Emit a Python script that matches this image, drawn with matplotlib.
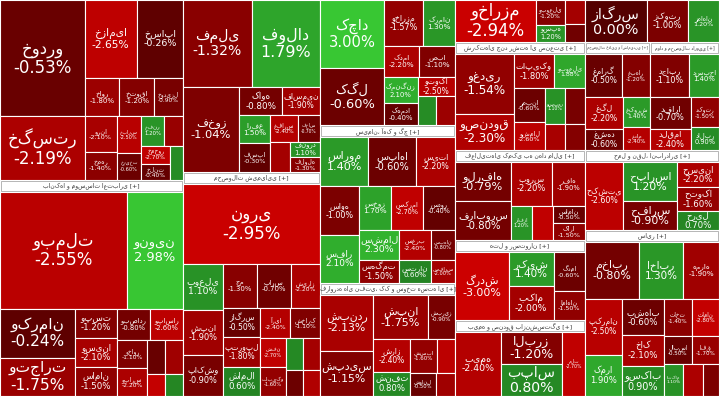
import matplotlib
matplotlib.use("Agg")
import matplotlib.pyplot as plt
from matplotlib.patches import Rectangle

plt.rcParams['font.family'] = ['DejaVu Sans']

# sectors: names and stocks (name, size, change%)
sector_names = ["خودرو و ساخت قطعات", "بانکها و موسسات اعتباری", "فلزات اساسی", "محصولات شیمیایی",
                "استخراج کانه های فلزی", "سیمان، آهک و گچ", "فراورده های نفتی، کک و سوخت هسته ای",
                "سرمایه گذاریها", "شرکتهای چند رشته ای صنعتی", "فعالیتهای کمکی به نهاد مالی",
                "هتل و رستوران", "بیمه و صندوق بازنشستگی", "زراعت", "محصولات غذایی و آشامیدنی",
                "مواد و محصولات دارویی", "حمل و نقل، انبارداری", "سایر"]
sector_stocks = [
    [("خودرو", 22, -0.53), ("خساپا", 8, -0.26), ("خگستر", 12, -2.19), ("خزامیا", 9, -2.65),
     ("خاور", 3, -1.8), ("ختوقا", 3, -1.2), ("خودیزل", 2.5, -0.9), ("ورنا", 2.5, -2.1),
     ("خمهر", 2, -1.4), ("خپارس", 2, -2.5), ("خریخت", 1.5, -0.6), ("خفنر", 1.5, 1.2),
     ("خکار", 1.2, -1.7), ("خمحور", 1.2, -2.7), ("خلنت", 1, -0.4), ("ساپرا", 1, 0.9)],
    [("وبملت", 36, -2.55), ("ونوین", 16, 2.98), ("وکرمان", 9, -0.24), ("وتجارت", 7, -1.75),
     ("وپست", 3, -1.2), ("وسینا", 3, -2.1), ("سامان", 3, -1.5), ("وبصادر", 2.5, -0.8),
     ("وپاسار", 2.5, -2.6), ("وخاور", 2, -1.1), ("وپارس", 2, -2.2), ("ودی", 1.5, -0.5),
     ("وآیند", 1.5, -1.9), ("وسرمد", 1, -2.8), ("وشهر", 1, 0.7)],
    [("فملی", 20, -1.32), ("فخوز", 16, -1.04), ("فولاد", 20, 1.79), ("کاوه", 4, -0.8),
     ("فاسمین", 3.5, -1.9), ("ارفع", 3, 1.5), ("فسپا", 3, -0.3), ("غفارس", 2.5, -2.4),
     ("فخاس", 2, -0.7), ("فجر", 2, -2.0), ("فنورد", 1.5, 1.1), ("فلوله", 1.5, -1.3)],
    [("نوری", 30, -2.95), ("بوعلی", 5, 1.1), ("پاکشو", 4.5, -0.9), ("شپنا", 5, -1.9),
     ("جم", 4, -1.3), ("پارس", 4, -0.7), ("شیراز", 3.5, -2.2), ("زاگرس", 3, -0.5),
     ("پتروپل", 3, -1.8), ("شاملا", 3, 0.6), ("آریا", 2.5, -2.4), ("شخارک", 2.5, -1.1),
     ("شفن", 2, -2.7), ("تاپیکو", 2, -1.6), ("شکلر", 1.5, 0.8), ("شسینا", 1.5, -2.0),
     ("شفارس", 1.2, -0.6), ("شصدف", 1.2, -2.3)],
    [("کچاد", 12, 3.0), ("کگل", 10, -0.6), ("وخارزم", 5, -1.57), ("کرمان", 4, 1.3),
     ("کدما", 3, -2.2), ("صبا", 3, -1.1), ("کمنگنز", 2.5, 2.1), ("کهمدا", 2, -0.4),
     ("وتوکا", 2, -2.5), ("مهر", 1.5, 0.9), ("نیان", 1.5, -1.8)],
    [("ساروم", 5, 1.4), ("سپاها", 5, -0.6), ("سیتا", 4, -2.2), ("ساوه", 4, -1.0),
     ("سفار", 4, 2.1), ("سخوز", 3, 1.7), ("سکرما", 3, -2.7), ("سدور", 3, -0.4),
     ("سشمال", 2.5, 2.3), ("سهگمت", 2, -1.5), ("سغرب", 2, -2.4), ("ستران", 1.5, 0.6),
     ("سبهان", 1.5, -0.8), ("سفارس", 1.2, -2.0)],
    [("شبندر", 10, -2.13), ("شپدیس", 8, -1.15), ("شپنا", 8, -1.75), ("شبریز", 4, -0.9),
     ("شراز", 4, -2.4), ("شنفت", 3, 0.8), ("شسپا", 3, -1.6), ("شاوان", 2, -2.6),
     ("شوانل", 2, -0.5), ("شتران", 1.5, -1.9)],
    [("وخارزم", 14, -2.94), ("وبوعلی", 3, -1.2), ("وسپه", 2, 1.2), ("وصنعت", 2, -2.0),
     ("وامید", 1.5, -0.7)],
    [("وغدیر", 10, -1.54), ("وصندوق", 6, -2.3), ("تاپیکو", 4, -1.8), ("وبوعلی", 3, 1.88),
     ("رمپنا", 3, -0.6), ("وشمال", 2.5, -2.6), ("وسپهر", 2, 1.1), ("وکار", 2, -0.9),
     ("کیمیا", 1.5, -2.1), ("وپترو", 1.5, -1.2)],
    [("ولرفاه", 6, -0.79), ("رفاه", 4, -1.9), ("فرابورس", 6, -0.8), ("بورس", 5, -2.2),
     ("رافزا", 2, 1.2), ("آپ", 2, -2.7), ("سامان", 1.5, -0.5), ("کارا", 1.5, -1.5)],
    [("گردش", 6, -3.0), ("رکیش", 2.5, 1.4), ("بکام", 2.5, -2.0), ("گدما", 2, -0.6),
     ("اماهان", 1.5, -1.5)],
    [("بیمه", 3, -2.4), ("البرز", 2, -1.2), ("بپاس", 2, 0.8), ("ملت", 1.5, -2.7)],
    [("زاگرس", 3, 0.0), ("زکوثر", 2, -1.0), ("زماهان", 1.5, 1.2)],
    [("غمارگ", 4, -0.5), ("غبهار", 3, -1.2), ("غگل", 3, -2.2), ("غشهد", 2, -0.6),
     ("غکورش", 2, 1.4), ("غدام", 1.5, -2.4)],
    [("دجابر", 4, -1.1), ("دسبحا", 3, 1.4), ("دفارا", 3, -0.7), ("دلقما", 2, -2.4),
     ("دکوثر", 2, -1.5), ("دالبر", 1.5, 0.9)],
    [("حکشتی", 5, -2.6), ("حپارسا", 4, 1.2), ("حفارس", 3, -0.9), ("حسینا", 2, -2.2),
     ("حتوکا", 2, -1.6), ("حریل", 1.5, 0.7)],
    [("مخابر", 6, -0.8), ("اخابر", 5, 1.3), ("همراه", 4, -1.9), ("پکرمان", 4, -2.5),
     ("کمرا", 3, 1.9), ("بشهاب", 3, -0.6), ("خاک", 2.5, -2.1), ("وسکاب", 2.5, 0.9),
     ("ثاخت", 2, -1.4), ("ثامان", 2, -2.8), ("لابسا", 1.5, -0.5), ("افق", 1.5, -1.7),
     ("اتکام", 1.2, 1.1), ("ثبهساز", 1.2, -2.2), ("پلاسک", 1, -1.0)],
]

# sector frames in pixels (x0, y0, x1, y1); header strip at top
frames = [(0, -12, 183, 180), (0, 180, 183, 396), (183, -12, 320, 172), (183, 172, 320, 396),
          (320, -12, 455, 125), (320, 125, 455, 283), (320, 283, 455, 396),
          (455, -12, 585, 42), (455, 42, 585, 150), (455, 150, 585, 240),
          (455, 240, 585, 320), (455, 320, 585, 396), (585, -12, 719, 42),
          (585, 42, 650, 150), (650, 42, 719, 150), (585, 150, 719, 230), (585, 230, 719, 396)]

W, H = 719, 404


def worst(row, w):
    s = sum(row)
    return max(max(w * w * r / (s * s), s * s / (w * w * r)) for r in row)


def squarify(vals, x, y, dx, dy):
    total = sum(vals)
    vals = [v * dx * dy / total for v in vals]
    rects = []
    i = 0
    while i < len(vals):
        w = min(dx, dy)
        row = [vals[i]]
        j = i + 1
        while j < len(vals) and worst(row + [vals[j]], w) <= worst(row, w):
            row.append(vals[j]); j += 1
        s = sum(row)
        if dx >= dy:
            rw = s / dy; cy = y
            for r in row:
                h = r / rw; rects.append((x, cy, rw, h)); cy += h
            x += rw; dx -= rw
        else:
            rh = s / dx; cx = x
            for r in row:
                ww = r / rh; rects.append((cx, y, ww, rh)); cx += ww
            y += rh; dy -= rh
        i = j
    return rects


def color(c):
    if c > 0:
        t = min(c / 3, 1)
        return (0.12 + 0.1 * t, 0.45 + 0.33 * t, 0.12 + 0.08 * t)
    t = min(-c / 3, 1)
    return (0.33 + 0.47 * t, 0.0, 0.0)


fig = plt.figure(figsize=(7.19, 4.04), dpi=100)
ax = fig.add_axes([0, 0, 1, 1])
ax.set_xlim(0, W); ax.set_ylim(H, 0); ax.axis('off')
ax.add_patch(Rectangle((0, 0), W, H, facecolor='white', edgecolor='none'))

hdr = 12
for k, (x0, y0, x1, y1) in enumerate(frames):
    stocks = sorted(sector_stocks[k], key=lambda s: -s[1])
    inner = squarify([s[1] for s in stocks], x0, y0 + hdr, x1 - x0, y1 - y0 - hdr)
    for (name, size, ch), (sx, sy, sw, sh) in zip(stocks, inner):
        ax.add_patch(Rectangle((sx, sy), sw, sh, facecolor=color(ch), edgecolor='white', lw=0.8))
        lab2 = f"{ch:.2f}%"
        vis_top = max(sy, 0)
        vis_h = sy + sh - vis_top
        fs = min(12, vis_h / 3.0, sw / (0.8 * max(len(name), len(lab2)) + 2))
        if fs >= 3.2:
            ax.text(sx + sw / 2, vis_top + vis_h / 2, f"{name}\n{lab2}", color='white', fontsize=fs,
                    ha='center', va='center', linespacing=1.1, clip_on=True)
    if y0 >= 0:
        ax.add_patch(Rectangle((x0 + 1, y0 + 1), x1 - x0 - 2, hdr - 2, facecolor='white',
                               edgecolor='#aaaaaa', lw=0.6))
        label = f"{sector_names[k]} [+]"
        hfs = min(4.3, (x1 - x0 - 4) / (0.8 * len(label)))
        ax.text((x0 + x1) / 2, y0 + hdr / 2, label, fontsize=hfs, ha='center',
                va='center', color='#333333', clip_on=True)

fig.savefig("out.png", dpi=100)
